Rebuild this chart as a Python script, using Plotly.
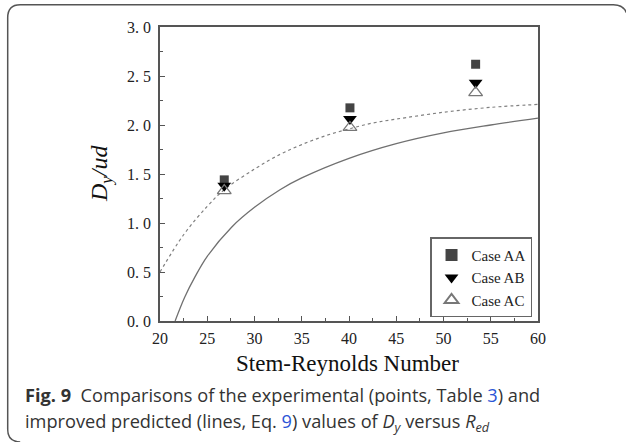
import plotly.graph_objects as go

# ---- data ----
re_points = [26.8, 40.1, 53.4]
case_aa = [1.44, 2.175, 2.62]
case_ab = [1.38, 2.06, 2.43]
case_ac = [1.33, 1.975, 2.33]

dotted_x = [20, 22.5, 25, 26.8, 30, 32.7, 35, 37.5, 40, 42.5, 45, 50, 55, 60]
dotted_y = [0.50, 0.88, 1.17, 1.34, 1.55, 1.70, 1.80, 1.89, 1.96, 2.02, 2.06, 2.13, 2.18, 2.21]

solid_x = [21.6, 22.6, 23.7, 25, 27.6, 30, 32.7, 35, 40, 45, 50, 55, 60]
solid_y = [0.0, 0.24, 0.45, 0.66, 0.96, 1.16, 1.34, 1.46, 1.66, 1.81, 1.92, 2.00, 2.07]

x_ticks = [20, 25, 30, 35, 40, 45, 50, 55, 60]
y_ticks = [0.0, 0.5, 1.0, 1.5, 2.0, 2.5, 3.0]
y_tick_text = ["0. 0", "0. 5", "1. 0", "1. 5", "2. 0", "2. 5", "3. 0"]

# ---- layout geometry (pixels) ----
W, H = 626, 442
PL, PR, PT, PB = 160, 538.5, 27.3, 320.7


def px(x):
    return (x - PL) / (PR - PL)


def py(y):
    return (PB - y) / (PB - PT)


serif = "Liberation Serif"
axis_col = "#555555"

fig = go.Figure()

fig.add_trace(go.Scatter(x=dotted_x, y=dotted_y, mode="lines", line_shape="spline",
                         line=dict(color="#808080", width=1.2, dash="dot"), showlegend=False,
                         hoverinfo="skip"))
fig.add_trace(go.Scatter(x=solid_x, y=solid_y, mode="lines", line_shape="spline",
                         line=dict(color="#707070", width=1.3), showlegend=False,
                         hoverinfo="skip"))

fig.add_trace(go.Scatter(x=re_points, y=case_aa, mode="markers", name="Case AA",
                         marker=dict(symbol="square", size=9, color="#444444",
                                     line=dict(width=0))))
fig.add_trace(go.Scatter(x=re_points, y=case_ab, mode="markers", name="Case AB",
                         marker=dict(symbol="triangle-down", size=12, color="#000000",
                                     line=dict(width=0))))
fig.add_trace(go.Scatter(x=re_points, y=case_ac, mode="markers", name="Case AC",
                         marker=dict(symbol="triangle-up-open", size=12, color="#777777",
                                     line=dict(width=1.3, color="#777777"))))

fig.update_xaxes(range=[20, 60], tickvals=x_ticks, ticktext=[str(v) for v in x_ticks],
                 ticks="inside", ticklen=5, tickwidth=1.3, tickcolor=axis_col,
                 minor=dict(ticks="inside", ticklen=3, tickwidth=1, tickcolor=axis_col, dtick=2.5),
                 showline=True, linecolor=axis_col, linewidth=1.6, mirror=True,
                 showgrid=False, zeroline=False, ticklabelstandoff=2,
                 tickfont=dict(family=serif, size=16, color="#222222"))
fig.update_yaxes(range=[0, 3], tickvals=y_ticks, ticktext=y_tick_text,
                 ticks="inside", ticklen=5, tickwidth=1.3, tickcolor=axis_col,
                 minor=dict(ticks="inside", ticklen=3, tickwidth=1, tickcolor=axis_col, dtick=0.25),
                 showline=True, linecolor=axis_col, linewidth=1.6, mirror=True,
                 showgrid=False, zeroline=False, ticklabelstandoff=4,
                 tickfont=dict(family=serif, size=16, color="#222222"))

fig.update_layout(
    width=W, height=H, autosize=False,
    margin=dict(l=PL, r=W - PR, t=PT, b=H - PB, pad=0),
    paper_bgcolor="white", plot_bgcolor="white",
    legend=dict(x=0.985, y=0.012, xanchor="right", yanchor="bottom",
                bgcolor="white", bordercolor="#666666", borderwidth=1.2,
                font=dict(family=serif, size=15, color="#222222"),
                itemsizing="constant", tracegroupgap=0),
    showlegend=True,
)

fig.add_annotation(xref="paper", yref="paper", x=px(348), y=py(363),
                   text="Stem-Reynolds Number", showarrow=False,
                   font=dict(family=serif, size=23, color="#111111"),
                   xanchor="center", yanchor="middle")
fig.add_annotation(xref="paper", yref="paper", x=px(101), y=py(174),
                   text="<i>D<sub>y</sub>/ud</i>", showarrow=False, textangle=-90,
                   font=dict(family=serif, size=24, color="#111111"),
                   xanchor="center", yanchor="middle")

caption_1 = ("<b>Fig. 9</b>  Comparisons of the experimental (points, Table "
             "<span style='color:#2b55d6'>3</span>) and")
caption_2 = ("improved predicted (lines, Eq. <span style='color:#2b55d6'>9</span>) values of "
             "<i>D<sub>y</sub></i> versus <i>R<sub>ed</sub></i>")
fig.add_annotation(xref="paper", yref="paper", x=px(23), y=py(395),
                   text=caption_1, showarrow=False, align="left",
                   font=dict(family="Open Sans", size=18.2, color="#333333"),
                   xanchor="left", yanchor="middle")
fig.add_annotation(xref="paper", yref="paper", x=px(23), y=py(422),
                   text=caption_2, showarrow=False, align="left",
                   font=dict(family="Open Sans", size=18.2, color="#333333"),
                   xanchor="left", yanchor="middle")

# card frame with rounded corners
frame = (f"M {px(627)},{py(13)} Q {px(624)},{py(5)} {px(614)},{py(5)} "
         f"L {px(20)},{py(5)} Q {px(7.5)},{py(5)} {px(7.5)},{py(18)} "
         f"L {px(7.5)},{py(429)} Q {px(7.5)},{py(441)} {px(20)},{py(441.5)}")
fig.add_shape(type="path", xref="paper", yref="paper", path=frame,
              line=dict(color="#555555", width=1.5), layer="above")

fig.write_html("out.html")
